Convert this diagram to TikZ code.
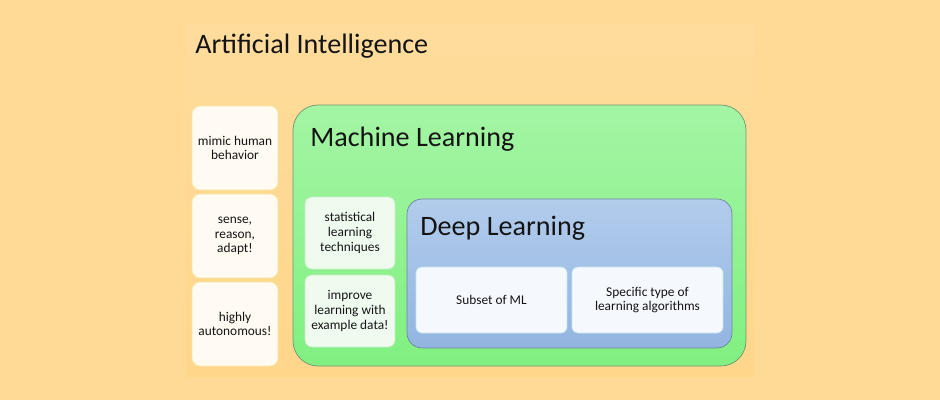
\documentclass[tikz,border=0pt]{standalone}
\usepackage{fontspec}
\setmainfont{Carlito}
\usetikzlibrary{positioning}

\definecolor{bgorange}{RGB}{255,217,150}
\definecolor{aitop}{RGB}{255,220,156}
\definecolor{aibot}{RGB}{255,214,138}
\definecolor{cardfill}{RGB}{255,250,242}
\definecolor{carddraw}{RGB}{246,232,160}
\definecolor{mltop}{RGB}{164,245,164}
\definecolor{mlbot}{RGB}{128,240,128}
\definecolor{mldraw}{RGB}{112,150,112}
\definecolor{mlcard}{RGB}{240,251,240}
\definecolor{mlcarddraw}{RGB}{200,238,200}
\definecolor{dltop}{RGB}{178,204,236}
\definecolor{dlbot}{RGB}{146,181,224}
\definecolor{dldraw}{RGB}{112,132,160}
\definecolor{dlcard}{RGB}{245,248,253}
\definecolor{dlcarddraw}{RGB}{198,230,240}
\definecolor{ink}{RGB}{20,20,20}

\begin{document}
\begin{tikzpicture}[
    x=0.02cm, y=-0.02cm, % one unit is one pixel of the reference
    bigtitle/.style={font=\fontsize{16}{19}\selectfont, text=ink, inner sep=0pt},
    smalltext/.style={font=\fontsize{7.6}{8.3}\selectfont, text=ink, align=center,
        inner sep=0pt},
    aicard/.style={smalltext, draw=carddraw, fill=cardfill, rounded corners=0.16cm,
        minimum width=1.72cm, minimum height=1.68cm},
    mlcardbox/.style={smalltext, draw=mlcarddraw, fill=mlcard, rounded corners=0.14cm,
        minimum width=1.8cm, minimum height=1.44cm},
    dlcardbox/.style={smalltext, draw=dlcarddraw, fill=dlcard, rounded corners=0.12cm,
        minimum width=3.02cm, minimum height=1.32cm}
]
    % background and AI panel
    \fill[bgorange] (0,0) rectangle (940,400);
    \useasboundingbox (0,0) rectangle (940,400);
    \node (ai) [top color=aitop, bottom color=aibot, minimum width=11.36cm,
        minimum height=7.06cm] at (470,200.5) {};
    \node (aititle) [bigtitle, anchor=base west] at (195,53) {Artificial Intelligence};

    % AI cards
    \node (mimic) [aicard] at (235,148) {mimic human\\behavior};
    \node (sense) [aicard] at (235,236) {sense,\\reason,\\adapt!};
    \node (auto) [aicard] at (235,324) {highly\\autonomous!};

    % Machine Learning
    \node (ml) [draw=mldraw, top color=mltop, bottom color=mlbot, rounded corners=0.5cm,
        minimum width=9.06cm, minimum height=5.22cm] at (519.5,235.5) {};
    \node (mltitle) [bigtitle, anchor=base west] at (310,146) {Machine Learning};
    \node (stat) [mlcardbox] at (350,233) {statistical\\learning\\techniques};
    \node (improve) [mlcardbox] at (350,311) {improve\\learning with\\example data!};

    % Deep Learning
    \node (dl) [draw=dldraw, top color=dltop, bottom color=dlbot, rounded corners=0.3cm,
        minimum width=6.5cm, minimum height=2.98cm] at (569.5,273.5) {};
    \node (dltitle) [bigtitle, anchor=base west] at (420,235) {Deep Learning};
    \node (subset) [dlcardbox] at (491.5,300) {Subset of ML};
    \node (specific) [dlcardbox] at (647.5,300) {Specific type of\\learning algorithms};
\end{tikzpicture}
\end{document}
